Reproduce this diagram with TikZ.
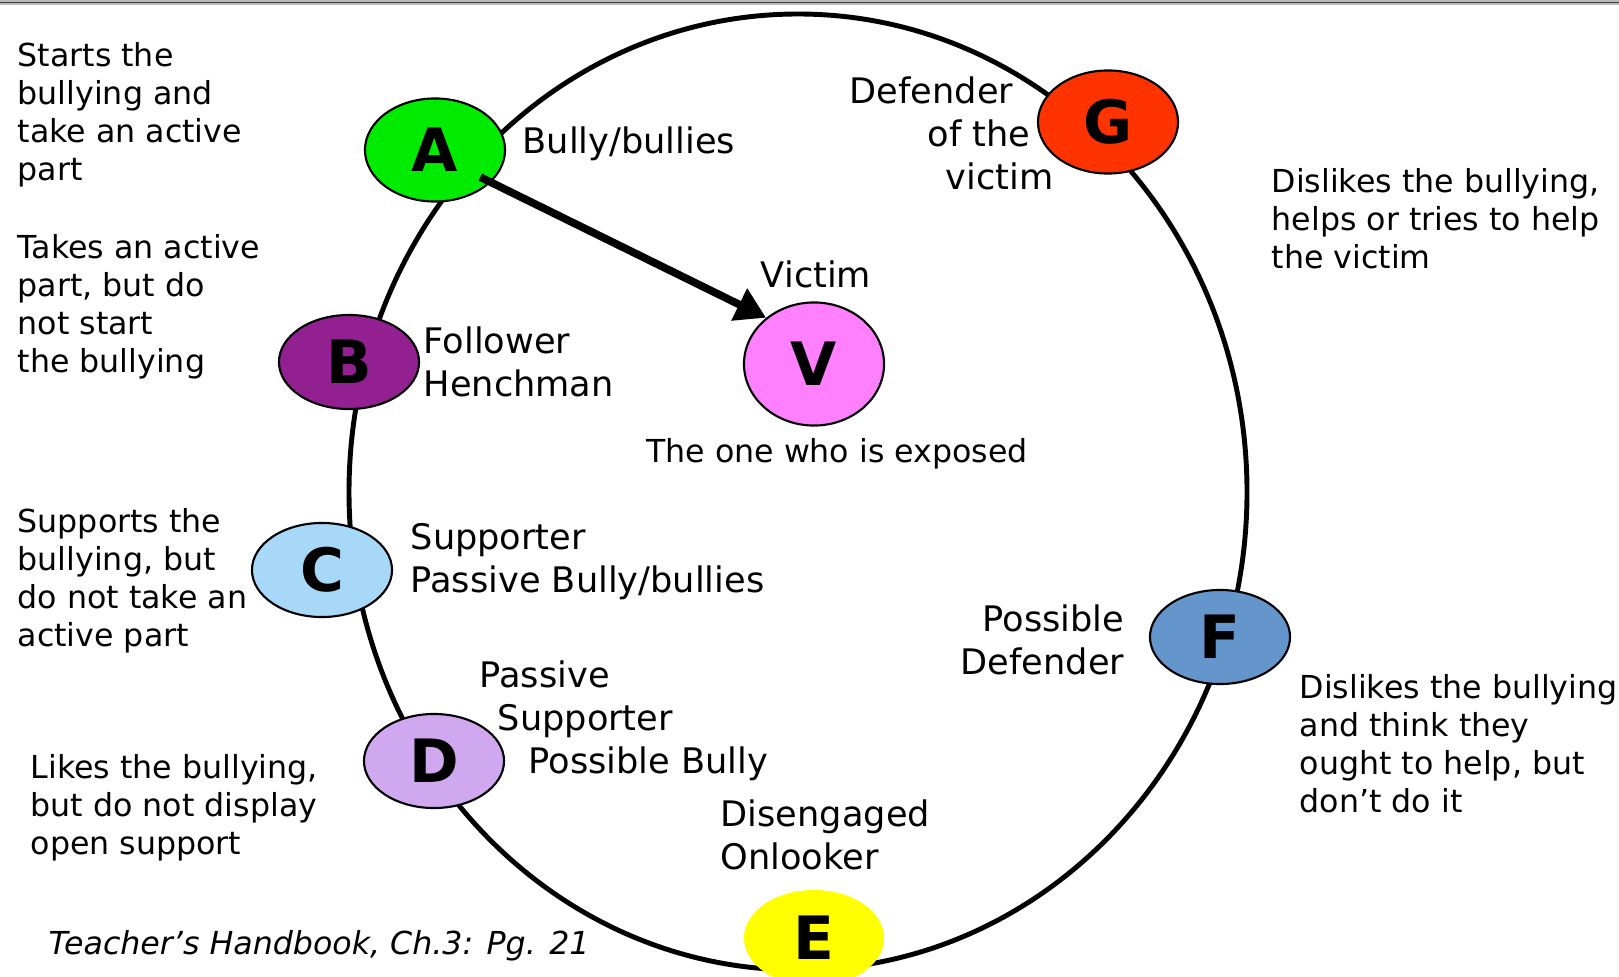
\documentclass[tikz,border=0pt]{standalone}
\usepackage{fontspec}
\setmainfont{DejaVu Sans}
\usetikzlibrary{shapes.geometric,arrows.meta}

\definecolor{agreen}{RGB}{0,235,0}
\definecolor{gred}{RGB}{255,51,0}
\definecolor{bpurple}{RGB}{146,32,144}
\definecolor{vpink}{RGB}{255,128,255}
\definecolor{cblue}{RGB}{168,216,248}
\definecolor{dlilac}{RGB}{208,168,240}
\definecolor{fblue}{RGB}{100,150,204}
\definecolor{eyellow}{RGB}{255,255,0}

\begin{document}
\begin{tikzpicture}[x=0.01cm, y=-0.01cm,
  role/.style={draw, ellipse, line width=0.6pt, minimum width=1.4cm, minimum height=0.94cm,
    inner sep=0pt, font=\fontsize{17}{17}\selectfont\bfseries},
  desc/.style={anchor=west, align=left, inner sep=0pt, font=\fontsize{9}{10.8}\selectfont},
  roletext/.style={anchor=west, align=left, inner sep=0pt, font=\fontsize{10}{12.2}\selectfont}]
  \useasboundingbox (0,0) rectangle (1619,976);
  \fill [gray!55] (0,0) rectangle (1619,5);
  \draw [black!75, line width=0.5pt] (0,2.5) -- (1619,2.5);

  \draw [line width=1.4pt] (798,492) ellipse [x radius=449, y radius=478];

  \node [role, fill=agreen, minimum height=1.03cm] (A_node) at (435,150) {A};
  \node [role, fill=gred, minimum height=1.03cm] (G_node) at (1108,122) {G};
  \node [role, fill=bpurple] (B_node) at (349,362) {B};
  \node [role, fill=vpink, minimum height=1.23cm] (V_node) at (814,364) {V};
  \node [role, fill=cblue] (C_node) at (322,570) {C};
  \node [role, fill=dlilac] (D_node) at (434,761) {D};
  \node [role, fill=fblue] (F_node) at (1220,637) {F};
  \node [role, fill=eyellow, draw=none, minimum height=0.96cm] (E_node) at (814,938) {E};

  \draw [line width=2.2pt, shorten <=-0.12cm, -{Triangle[length=0.3cm, width=0.34cm]}] (A_node.-30) -- (V_node.136);

  \node [roletext] (A_text) at (522,144) {Bully/bullies};
  \node [roletext] (G_text) at (849,133) {Defender\\\hspace*{0.78cm}of the\\\hspace*{0.96cm}victim};
  \node [roletext] (B_text) at (423,362) {Follower\\Henchman};
  \node [roletext, anchor=center] (V_text) at (816,274) {Victim};
  \node [roletext] (C_text) at (410,562) {Supporter\\Passive Bully/bullies};
  \node [roletext] (D_text) at (479,721) {Passive\\\hspace*{0.18cm}Supporter\\\hspace*{0.49cm}Possible Bully};
  \node [roletext] (E_text) at (720,835) {Disengaged\\Onlooker};
  \node [roletext, align=right, anchor=east] (F_text) at (1125,640) {Possible\\Defender};

  \node [desc] (starts_text) at (17,115) {Starts the\\bullying and\\take an active\\part};
  \node [desc] (takes_text) at (17,307) {Takes an active\\part, but do\\not start\\the bullying};
  \node [desc] (supports_text) at (17,581) {Supports the\\bullying, but\\do not take an\\active part};
  \node [desc] (likes_text) at (30,808) {Likes the bullying,\\but do not display\\open support};
  \node [desc] (dislikes_text) at (1271,219) {Dislikes the bullying,\\helps or tries to help\\the victim};
  \node [desc] (ought_text) at (1299,744) {Dislikes the bullying\\and think they\\ought to help, but\\don't do it};
  \node [desc, anchor=center] (exposed_text) at (837,454) {The one who is exposed};
  \node [desc, font=\fontsize{9}{10.8}\selectfont\itshape] (source_text) at (48,946) {Teacher's Handbook, Ch.3: Pg. 21};
\end{tikzpicture}
\end{document}
